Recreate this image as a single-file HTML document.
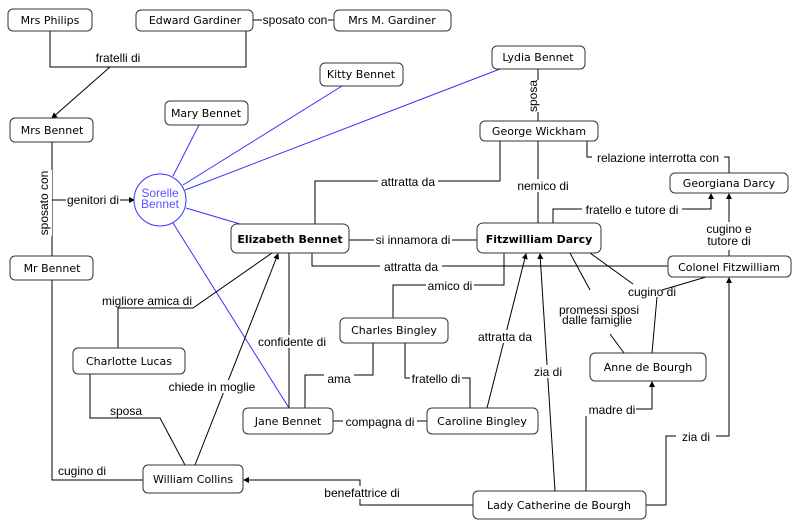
<!DOCTYPE html>
<html><head><meta charset="utf-8"><style>
body{margin:0;background:#fff}
svg{display:block}
.n{fill:#fff;stroke:#333;stroke-width:1}
.t{font-family:"DejaVu Sans",sans-serif;font-size:11px;fill:#000;text-anchor:middle}
.b{font-weight:bold}
.l{font-family:"Liberation Sans",sans-serif;font-size:12px;fill:#000;text-anchor:middle}
.k{stroke:#000;fill:none;stroke-width:1}
.u{stroke:#3333ff;fill:none;stroke-width:1}
.w{fill:#fff;stroke:none}
</style></head><body>
<svg width="799" height="530" viewBox="0 0 799 530" xmlns="http://www.w3.org/2000/svg">
<defs><marker id="a" markerWidth="6" markerHeight="6" refX="5" refY="3" orient="auto"><path d="M0,0 L6,3 L0,6 z" fill="#000"/></marker></defs>
<!-- blue lines -->
<path class="u" d="M173,176 L199,125 M183,185 L342,86 M185,190 L500,69 M186,208 L240,224 M173,223 L289,408"/>
<!-- black connectors -->
<path class="k" d="M50,31 V67 H246 V30"/>
<path class="k" d="M110,67 L52,118" marker-end="url(#a)"/>
<path class="k" d="M253,20 H334"/>
<path class="k" d="M52,142 V256"/>
<path class="k" d="M52,200 H134" marker-end="url(#a)"/>
<path class="k" d="M538,69 V121 M538,141 V223"/>
<path class="k" d="M500,141 V181 H315 V224"/>
<path class="k" d="M587,141 V157 H592 M724,157 H729 V173"/>
<path class="k" d="M553,223 V209 H711 V194" marker-end="url(#a)"/>
<path class="k" d="M729,256 V194" marker-end="url(#a)"/>
<path class="k" d="M349,240 H477"/>
<path class="k" d="M312,253 V266 H668"/>
<path class="k" d="M504,253 V285 H393 V318"/>
<path class="k" d="M590,253 L633,284 M662,290 L706,277 M657,297 L652,353"/>
<path class="k" d="M570,253 L590,290 M610,334 L624,353"/>
<path class="k" d="M487,408 L526,254" marker-end="url(#a)"/>
<path class="k" d="M555,491 L540,254" marker-end="url(#a)"/>
<path class="k" d="M586,491 V409 H652 V382" marker-end="url(#a)"/>
<path class="k" d="M646,505 H666 V436 H729 V278" marker-end="url(#a)"/>
<path class="k" d="M473,505 H360 V480 H244" marker-end="url(#a)"/>
<path class="k" d="M52,280 V480 H143"/>
<path class="k" d="M118,348 V308 H193 L272,253"/>
<path class="k" d="M90,374 V418 H160 L185,465"/>
<path class="k" d="M195,465 L278,254" marker-end="url(#a)"/>
<path class="k" d="M289,408 V253"/>
<path class="k" d="M305,408 V375 H373 V343"/>
<path class="k" d="M405,343 V378 H470 V408"/>
<path class="k" d="M333,421 H427"/>
<!-- connector labels -->
<g class="l">
<rect class="w" x="90" y="51" width="56" height="13"/><text x="118" y="62">fratelli di</text>
<rect class="w" x="262" y="13" width="66" height="13"/><text x="295" y="24">sposato con</text>
<rect class="w" x="38" y="170" width="14" height="66"/><text transform="translate(48,203) rotate(-90)">sposato con</text>
<rect class="w" x="66" y="193" width="54" height="13"/><text x="93" y="204">genitori di</text>
<rect class="w" x="527" y="80" width="14" height="32"/><text transform="translate(537,96) rotate(-90)">sposa</text>
<rect class="w" x="515" y="179" width="52" height="13"/><text x="543" y="190">nemico di</text>
<rect class="w" x="378" y="175" width="60" height="13"/><text x="408" y="186">attratta da</text>
<text x="658" y="162">relazione interrotta con</text>
<rect class="w" x="582" y="203" width="100" height="13"/><text x="632" y="214">fratello e tutore di</text>
<rect class="w" x="705" y="222" width="48" height="28"/><text x="729" y="233">cugino e</text><text x="729" y="245">tutore di</text>
<rect class="w" x="374" y="234" width="78" height="13"/><text x="413" y="244">si innamora di</text>
<rect class="w" x="380" y="260" width="62" height="13"/><text x="411" y="271">attratta da</text>
<rect class="w" x="426" y="279" width="48" height="13"/><text x="450" y="290">amico di</text>
<text x="652" y="296">cugino di</text>
<text x="599" y="314">promessi sposi</text><text x="597" y="324">dalle famiglie</text>
<rect class="w" x="474" y="330" width="62" height="13"/><text x="505" y="341">attratta da</text>
<rect class="w" x="532" y="365" width="32" height="13"/><text x="548" y="376">zia di</text>
<rect class="w" x="580" y="403" width="56" height="13"/><text x="612" y="414">madre di</text>
<rect class="w" x="676" y="430" width="40" height="13"/><text x="696" y="441">zia di</text>
<rect class="w" x="322" y="486" width="80" height="13"/><text x="362" y="497">benefattrice di</text>
<text x="82" y="475">cugino di</text>
<rect class="w" x="100" y="294" width="94" height="13"/><text x="147" y="305">migliore amica di</text>
<rect class="w" x="106" y="404" width="40" height="13"/><text x="126" y="415">sposa</text>
<rect class="w" x="166" y="380" width="92" height="13"/><text x="212" y="391">chiede in moglie</text>
<rect class="w" x="256" y="335" width="72" height="13"/><text x="292" y="346">confidente di</text>
<rect class="w" x="324" y="372" width="30" height="13"/><text x="339" y="383">ama</text>
<rect class="w" x="410" y="372" width="52" height="13"/><text x="436" y="383">fratello di</text>
<rect class="w" x="343" y="415" width="74" height="13"/><text x="380" y="426">compagna di</text>
</g>
<!-- nodes -->
<g>
<rect class="n" x="8" y="9" width="84" height="22" rx="5"/><text class="t" x="50" y="24">Mrs Philips</text>
<rect class="n" x="136" y="10" width="117" height="21" rx="5"/><text class="t" x="195" y="24">Edward Gardiner</text>
<rect class="n" x="334" y="10" width="117" height="21" rx="5"/><text class="t" x="392" y="24">Mrs M. Gardiner</text>
<rect class="n" x="320" y="63" width="83" height="23" rx="5"/><text class="t" x="361" y="78">Kitty Bennet</text>
<rect class="n" x="492" y="46" width="93" height="23" rx="5"/><text class="t" x="538" y="61">Lydia Bennet</text>
<rect class="n" x="165" y="101" width="83" height="24" rx="5"/><text class="t" x="206" y="117">Mary Bennet</text>
<rect class="n" x="10" y="118" width="83" height="24" rx="5"/><text class="t" x="52" y="134">Mrs Bennet</text>
<rect class="n" x="480" y="121" width="118" height="20" rx="5"/><text class="t" x="539" y="135">George Wickham</text>
<rect class="n" x="670" y="173" width="118" height="20" rx="5"/><text class="t" x="729" y="187">Georgiana Darcy</text>
<circle cx="160" cy="200" r="26" fill="#fff" stroke="#3333ff"/>
<text class="l" x="160" y="197" style="fill:#5555ff">Sorelle</text><text class="l" x="160" y="208" style="fill:#5555ff">Bennet</text>
<rect class="n" x="231" y="224" width="118" height="29" rx="6"/><text class="t b" x="290" y="243">Elizabeth Bennet</text>
<rect class="n" x="477" y="223" width="124" height="30" rx="6"/><text class="t b" x="539" y="243">Fitzwilliam Darcy</text>
<rect class="n" x="10" y="256" width="83" height="24" rx="5"/><text class="t" x="52" y="272">Mr Bennet</text>
<rect class="n" x="668" y="256" width="123" height="21" rx="5"/><text class="t" x="729" y="271">Colonel Fitzwilliam</text>
<rect class="n" x="340" y="318" width="108" height="25" rx="5"/><text class="t" x="394" y="334">Charles Bingley</text>
<rect class="n" x="73" y="348" width="112" height="26" rx="5"/><text class="t" x="129" y="365">Charlotte Lucas</text>
<rect class="n" x="590" y="353" width="116" height="28" rx="5"/><text class="t" x="648" y="371">Anne de Bourgh</text>
<rect class="n" x="243" y="408" width="90" height="26" rx="5"/><text class="t" x="288" y="425">Jane Bennet</text>
<rect class="n" x="427" y="408" width="111" height="26" rx="5"/><text class="t" x="482" y="425">Caroline Bingley</text>
<rect class="n" x="143" y="465" width="100" height="28" rx="5"/><text class="t" x="193" y="483">William Collins</text>
<rect class="n" x="473" y="491" width="173" height="28" rx="5"/><text class="t" x="559" y="509">Lady Catherine de Bourgh</text>
</g>
</svg>
</body></html>
